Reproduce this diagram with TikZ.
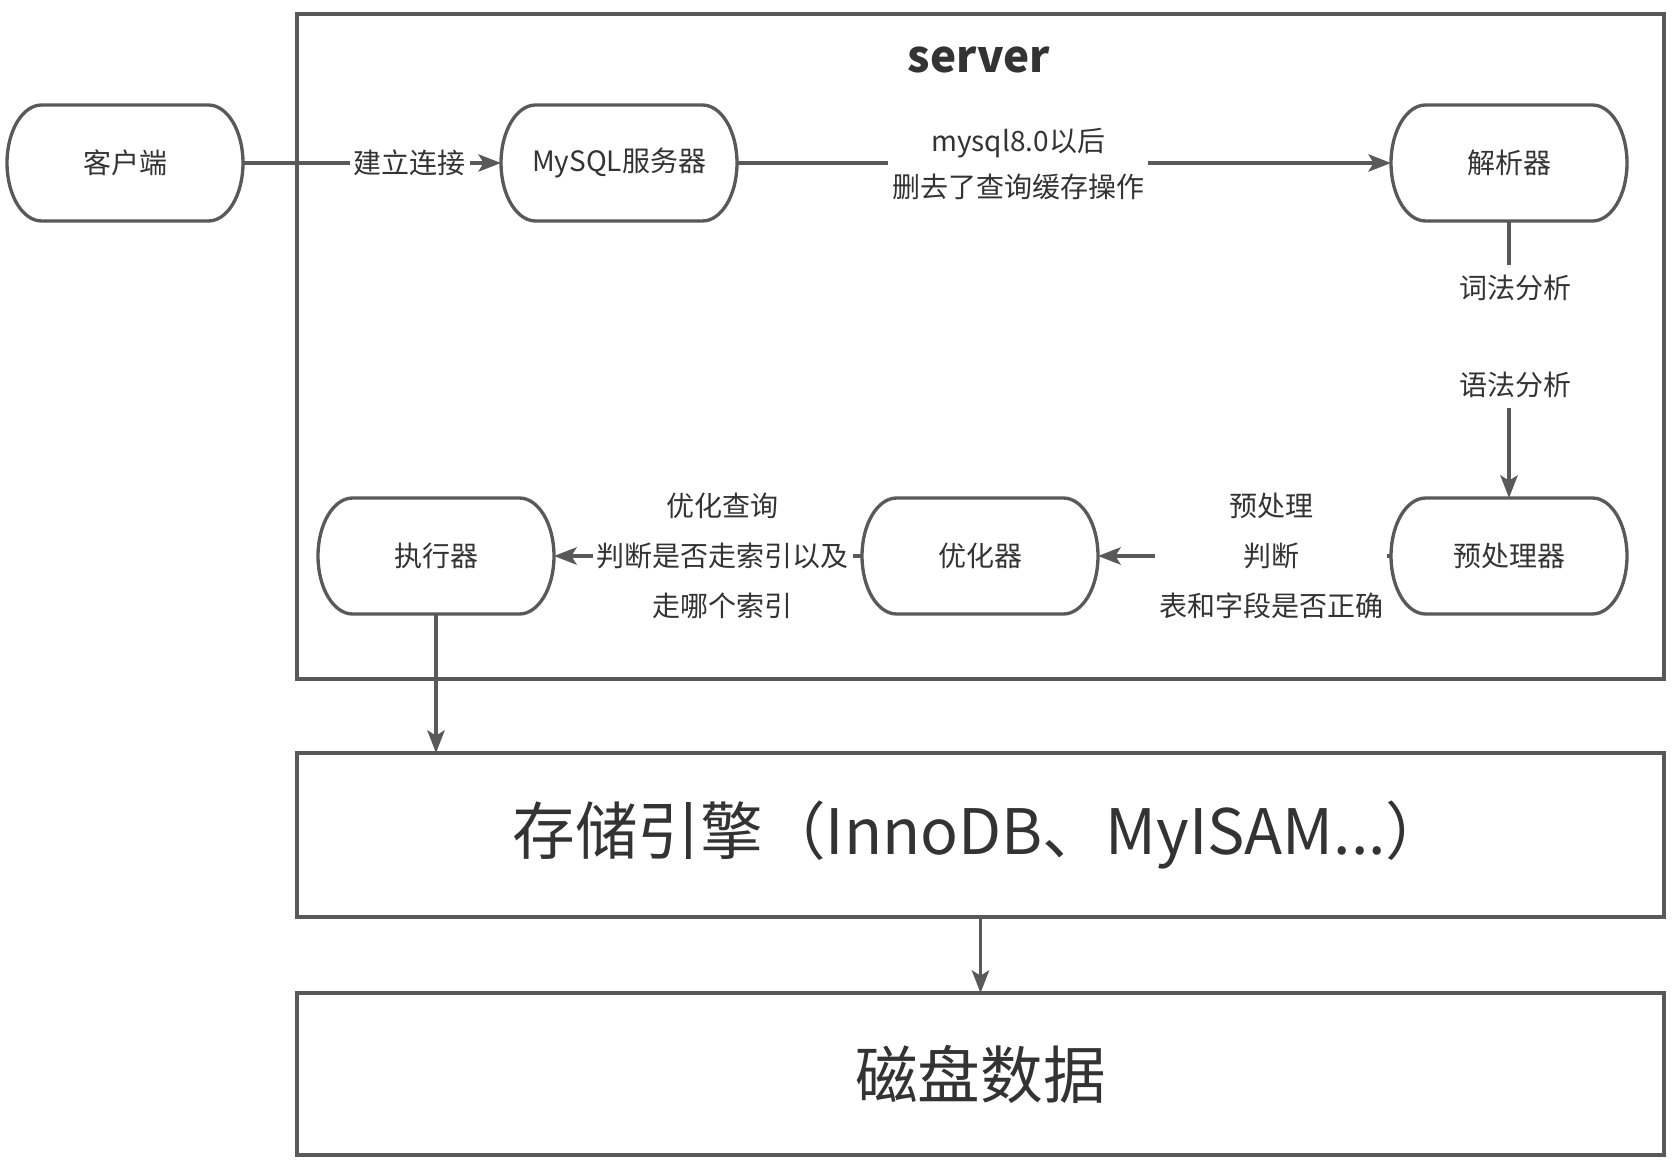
\documentclass[tikz,border=0pt]{standalone}
\usepackage{fontspec}
\setmainfont{Noto Sans CJK SC}
\usetikzlibrary{arrows.meta,calc}
\definecolor{linegray}{HTML}{595959}
\definecolor{txtgray}{HTML}{333333}
\tikzset{
 flow/.style={draw=linegray, line width=2.5pt},
 flowarrow/.style={-{Stealth[length=17pt,width=13pt,inset=4pt]}},
 term/.style={minimum width=177pt, minimum height=87pt, outer sep=0pt, inner sep=0pt, text=txtgray, font=\fontsize{21}{34.5}\selectfont},
 lbl/.style={fill=white, inner xsep=3pt, inner ysep=3pt, align=center, text=txtgray, font=\fontsize{21}{34.5}\selectfont},
 lblwide/.style={lbl, font=\fontsize{21}{37.5}\selectfont},
 bigbox/.style={draw=linegray, line width=2.5pt, minimum width=1025.25pt, outer sep=0pt, text=txtgray, font=\fontsize{47}{56}\selectfont},
}
% terminator outline with elliptic ends round a named node
\newcommand{\termbox}[1]{
 \draw[flow] ($(#1.north west)+(26pt,0)$) -- ($(#1.north east)+(-26pt,0)$)
  arc (90:-90:26pt and 43.5pt) -- ($(#1.south west)+(26pt,0)$)
  arc (270:90:26pt and 43.5pt) -- cycle;
}
\begin{document}
\begin{tikzpicture}[x=0.75pt, y=-0.75pt]
 \useasboundingbox (0,0) rectangle (1676,1162);
%
 \draw[flow] (297,14) rectangle (1664,679);
 \node[text=txtgray, font=\fontsize{33}{38}\selectfont\bfseries] (srv) at (979,60) {server};
%
 \node[term] (client) at (125,163) {客户端};
 \node[term] (mysql) at (619,163) {MySQL服务器};
 \node[term] (parser) at (1509,163) {解析器};
 \node[term] (prep) at (1509,556) {预处理器};
 \node[term] (optim) at (980,556) {优化器};
 \node[term] (exec) at (436,556) {执行器};
 \termbox{client}
 \termbox{mysql}
 \termbox{parser}
 \termbox{prep}
 \termbox{optim}
 \termbox{exec}
%
 \node[bigbox, minimum height=123pt] (engine) at (980.5,835) {\raisebox{-5pt}{存储引擎（InnoDB、MyISAM...）}};
 \node[bigbox, minimum height=121.5pt] (disk) at (980.5,1074) {\raisebox{-4pt}{磁盘数据}};
%
 \draw[flow, flowarrow] (client) -- node[lbl, pos=.647] {建立连接} (mysql);
 \draw[flow, flowarrow] (mysql) -- node[lbl, pos=.43, yshift=-1pt] {mysql8.0以后\\删去了查询缓存操作} (parser);
 \draw[flow, flowarrow] (parser) -- node[lbl, pos=.417, xshift=4.5pt, inner ysep=8pt] {词法分析\\[38pt]语法分析} (prep);
 \draw[flow, flowarrow] (prep) -- node[lblwide, pos=.408] {预处理\\判断\\表和字段是否正确} (optim);
 \draw[flow, flowarrow] (optim) -- node[lblwide, pos=.452] {优化查询\\判断是否走索引以及\\走哪个索引} (exec);
 \draw[flow, flowarrow] (exec) -- (exec |- engine.north);
 \draw[flow, flowarrow] (engine) -- (disk);
\end{tikzpicture}
\end{document}
